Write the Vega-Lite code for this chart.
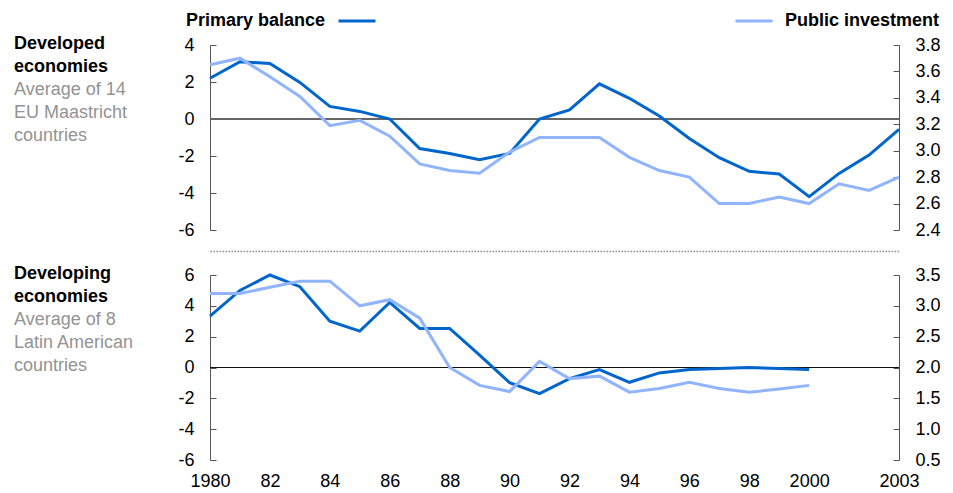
{
  "$schema": "https://vega.github.io/schema/vega-lite/v6.json",
  "padding": {"left": 14, "top": 1, "right": 5, "bottom": 4},
  "bounds": "flush",
  "spacing": 45,
  "config": {
    "font": "Liberation Sans",
    "view": {"stroke": null},
    "axis": {"labelFontSize": 18, "labelColor": "#000", "domainColor": "#555", "tickColor": "#555", "grid": false, "title": null, "labelFont": "Liberation Sans"},
    "axisY": {"tickSize": -6, "labelPadding": 22, "domainWidth": 1, "tickWidth": 1},
    "legend": {"labelFont": "Liberation Sans"}
  },
  "datasets": {
    "d": [
      {"panel": "Developed", "series": "Primary balance", "year": 1980, "value": 2.2},
      {"panel": "Developed", "series": "Primary balance", "year": 1981, "value": 3.1},
      {"panel": "Developed", "series": "Primary balance", "year": 1982, "value": 3.0},
      {"panel": "Developed", "series": "Primary balance", "year": 1983, "value": 1.98},
      {"panel": "Developed", "series": "Primary balance", "year": 1984, "value": 0.68},
      {"panel": "Developed", "series": "Primary balance", "year": 1985, "value": 0.41},
      {"panel": "Developed", "series": "Primary balance", "year": 1986, "value": 0.0},
      {"panel": "Developed", "series": "Primary balance", "year": 1987, "value": -1.6},
      {"panel": "Developed", "series": "Primary balance", "year": 1988, "value": -1.86},
      {"panel": "Developed", "series": "Primary balance", "year": 1989, "value": -2.2},
      {"panel": "Developed", "series": "Primary balance", "year": 1990, "value": -1.86},
      {"panel": "Developed", "series": "Primary balance", "year": 1991, "value": 0.0},
      {"panel": "Developed", "series": "Primary balance", "year": 1992, "value": 0.49},
      {"panel": "Developed", "series": "Primary balance", "year": 1993, "value": 1.9},
      {"panel": "Developed", "series": "Primary balance", "year": 1994, "value": 1.12},
      {"panel": "Developed", "series": "Primary balance", "year": 1995, "value": 0.16},
      {"panel": "Developed", "series": "Primary balance", "year": 1996, "value": -1.05},
      {"panel": "Developed", "series": "Primary balance", "year": 1997, "value": -2.09},
      {"panel": "Developed", "series": "Primary balance", "year": 1998, "value": -2.83},
      {"panel": "Developed", "series": "Primary balance", "year": 1999, "value": -2.97},
      {"panel": "Developed", "series": "Primary balance", "year": 2000, "value": -4.2},
      {"panel": "Developed", "series": "Primary balance", "year": 2001, "value": -2.94},
      {"panel": "Developed", "series": "Primary balance", "year": 2002, "value": -1.95},
      {"panel": "Developed", "series": "Primary balance", "year": 2003, "value": -0.56},
      {"panel": "Developed", "series": "Public investment", "year": 1980, "value": 3.65},
      {"panel": "Developed", "series": "Public investment", "year": 1981, "value": 3.70},
      {"panel": "Developed", "series": "Public investment", "year": 1982, "value": 3.56},
      {"panel": "Developed", "series": "Public investment", "year": 1983, "value": 3.41},
      {"panel": "Developed", "series": "Public investment", "year": 1984, "value": 3.19},
      {"panel": "Developed", "series": "Public investment", "year": 1985, "value": 3.23},
      {"panel": "Developed", "series": "Public investment", "year": 1986, "value": 3.11},
      {"panel": "Developed", "series": "Public investment", "year": 1987, "value": 2.90},
      {"panel": "Developed", "series": "Public investment", "year": 1988, "value": 2.85},
      {"panel": "Developed", "series": "Public investment", "year": 1989, "value": 2.83},
      {"panel": "Developed", "series": "Public investment", "year": 1990, "value": 2.99},
      {"panel": "Developed", "series": "Public investment", "year": 1991, "value": 3.10},
      {"panel": "Developed", "series": "Public investment", "year": 1992, "value": 3.10},
      {"panel": "Developed", "series": "Public investment", "year": 1993, "value": 3.10},
      {"panel": "Developed", "series": "Public investment", "year": 1994, "value": 2.95},
      {"panel": "Developed", "series": "Public investment", "year": 1995, "value": 2.85},
      {"panel": "Developed", "series": "Public investment", "year": 1996, "value": 2.80},
      {"panel": "Developed", "series": "Public investment", "year": 1997, "value": 2.60},
      {"panel": "Developed", "series": "Public investment", "year": 1998, "value": 2.60},
      {"panel": "Developed", "series": "Public investment", "year": 1999, "value": 2.65},
      {"panel": "Developed", "series": "Public investment", "year": 2000, "value": 2.60},
      {"panel": "Developed", "series": "Public investment", "year": 2001, "value": 2.75},
      {"panel": "Developed", "series": "Public investment", "year": 2002, "value": 2.70},
      {"panel": "Developed", "series": "Public investment", "year": 2003, "value": 2.80},
      {"panel": "Developing", "series": "Primary balance", "year": 1980, "value": 3.33},
      {"panel": "Developing", "series": "Primary balance", "year": 1981, "value": 5.0},
      {"panel": "Developing", "series": "Primary balance", "year": 1982, "value": 6.0},
      {"panel": "Developing", "series": "Primary balance", "year": 1983, "value": 5.24},
      {"panel": "Developing", "series": "Primary balance", "year": 1984, "value": 3.0},
      {"panel": "Developing", "series": "Primary balance", "year": 1985, "value": 2.36},
      {"panel": "Developing", "series": "Primary balance", "year": 1986, "value": 4.22},
      {"panel": "Developing", "series": "Primary balance", "year": 1987, "value": 2.53},
      {"panel": "Developing", "series": "Primary balance", "year": 1988, "value": 2.53},
      {"panel": "Developing", "series": "Primary balance", "year": 1989, "value": 0.8},
      {"panel": "Developing", "series": "Primary balance", "year": 1990, "value": -0.98},
      {"panel": "Developing", "series": "Primary balance", "year": 1991, "value": -1.69},
      {"panel": "Developing", "series": "Primary balance", "year": 1992, "value": -0.72},
      {"panel": "Developing", "series": "Primary balance", "year": 1993, "value": -0.13},
      {"panel": "Developing", "series": "Primary balance", "year": 1994, "value": -0.96},
      {"panel": "Developing", "series": "Primary balance", "year": 1995, "value": -0.35},
      {"panel": "Developing", "series": "Primary balance", "year": 1996, "value": -0.13},
      {"panel": "Developing", "series": "Primary balance", "year": 1997, "value": -0.07},
      {"panel": "Developing", "series": "Primary balance", "year": 1998, "value": 0.0},
      {"panel": "Developing", "series": "Primary balance", "year": 1999, "value": -0.07},
      {"panel": "Developing", "series": "Primary balance", "year": 2000, "value": -0.13},
      {"panel": "Developing", "series": "Public investment", "year": 1980, "value": 3.2},
      {"panel": "Developing", "series": "Public investment", "year": 1981, "value": 3.2},
      {"panel": "Developing", "series": "Public investment", "year": 1982, "value": 3.3},
      {"panel": "Developing", "series": "Public investment", "year": 1983, "value": 3.4},
      {"panel": "Developing", "series": "Public investment", "year": 1984, "value": 3.4},
      {"panel": "Developing", "series": "Public investment", "year": 1985, "value": 3.0},
      {"panel": "Developing", "series": "Public investment", "year": 1986, "value": 3.1},
      {"panel": "Developing", "series": "Public investment", "year": 1987, "value": 2.8},
      {"panel": "Developing", "series": "Public investment", "year": 1988, "value": 2.0},
      {"panel": "Developing", "series": "Public investment", "year": 1989, "value": 1.71},
      {"panel": "Developing", "series": "Public investment", "year": 1990, "value": 1.61},
      {"panel": "Developing", "series": "Public investment", "year": 1991, "value": 2.1},
      {"panel": "Developing", "series": "Public investment", "year": 1992, "value": 1.82},
      {"panel": "Developing", "series": "Public investment", "year": 1993, "value": 1.86},
      {"panel": "Developing", "series": "Public investment", "year": 1994, "value": 1.6},
      {"panel": "Developing", "series": "Public investment", "year": 1995, "value": 1.66},
      {"panel": "Developing", "series": "Public investment", "year": 1996, "value": 1.76},
      {"panel": "Developing", "series": "Public investment", "year": 1997, "value": 1.66},
      {"panel": "Developing", "series": "Public investment", "year": 1998, "value": 1.6},
      {"panel": "Developing", "series": "Public investment", "year": 1999, "value": 1.65},
      {"panel": "Developing", "series": "Public investment", "year": 2000, "value": 1.71}
    ]
  },
  "vconcat": [
    {
      "width": 689,
      "height": 185,
      "title": {
        "text": ["Developed", "economies"],
        "subtitle": ["Average of 14", "EU Maastricht", "countries"],
        "anchor": "start", "frame": "group", "orient": "top", "align": "left", "baseline": "top",
        "dx": -196, "offset": -109,
        "font": "Liberation Sans", "fontSize": 18, "fontWeight": "bold", "color": "#000", "lineHeight": 23,
        "subtitleFont": "Liberation Sans", "subtitleFontSize": 18, "subtitleColor": "#939393", "subtitleLineHeight": 23, "subtitlePadding": 5
      },
      "data": {"name": "d"},
      "transform": [{"filter": "datum.panel == 'Developed'"}],
      "layer": [
        {
          "layer": [
            {
              "mark": {"type": "rule", "color": "#666", "strokeWidth": 1.2},
              "encoding": {"y": {"datum": 0, "type": "quantitative", "scale": {"domain": [-6, 4], "nice": false, "zero": false},
                      "axis": {"values": [-6, -4, -2, 0, 2, 4], "labelExpr": "replace(datum.label, '\u2212', '-')"}}}
            },
            {
              "transform": [{"filter": "datum.series == 'Primary balance'"}],
              "mark": {"type": "line", "strokeWidth": 3},
              "encoding": {
                "x": {"field": "year", "type": "quantitative", "scale": {"domain": [1980, 2003], "nice": false, "zero": false},
                      "axis": {"orient": "bottom", "offset": 21, "labels": false, "ticks": false, "domainDash": [1.5, 1.5], "domainColor": "#888", "domainWidth": 1.5}},
                "y": {"field": "value", "type": "quantitative", "scale": {"domain": [-6, 4], "nice": false, "zero": false},
                      "axis": {"values": [-6, -4, -2, 0, 2, 4], "labelExpr": "replace(datum.label, '\u2212', '-')"}},
                "stroke": {"field": "series", "type": "nominal", "scale": {"domain": ["Primary balance"], "range": ["#0066cc"]},
                           "legend": {"orient": "none", "legendX": 127, "legendY": -44, "title": null, "symbolType": "stroke", "symbolSize": 1369, "symbolStrokeWidth": 3, "labelFontSize": 18, "labelFontWeight": "bold", "labelColor": "#000", "labelAlign": "right", "labelOffset": -52, "labelLimit": 300}}
              }
            }
          ]
        },
        {
          "transform": [{"filter": "datum.series == 'Public investment'"}],
          "mark": {"type": "line", "strokeWidth": 3},
          "encoding": {
            "x": {"field": "year", "type": "quantitative", "scale": {"domain": [1980, 2003], "nice": false, "zero": false}},
            "y": {"field": "value", "type": "quantitative", "scale": {"domain": [2.4, 3.8], "nice": false, "zero": false},
                  "axis": {"orient": "right", "values": [2.4, 2.6, 2.8, 3.0, 3.2, 3.4, 3.6, 3.8], "format": ".1f"}},
            "color": {"field": "series", "type": "nominal", "scale": {"domain": ["Public investment"], "range": ["#91b4ff"]},
                      "legend": {"orient": "none", "legendX": 524, "legendY": -44, "title": null, "symbolType": "stroke", "symbolSize": 1369, "symbolStrokeWidth": 3, "labelFontSize": 18, "labelFontWeight": "bold", "labelColor": "#000", "labelOffset": 11, "labelLimit": 300}}
          }
        }
      ],
      "resolve": {"scale": {"y": "independent"}}
    },
    {
      "width": 689,
      "height": 185,
      "title": {
        "text": ["Developing", "economies"],
        "subtitle": ["Average of 8", "Latin American", "countries"],
        "anchor": "start", "frame": "group", "orient": "top", "align": "left", "baseline": "top",
        "dx": -196, "offset": -109,
        "font": "Liberation Sans", "fontSize": 18, "fontWeight": "bold", "color": "#000", "lineHeight": 23,
        "subtitleFont": "Liberation Sans", "subtitleFontSize": 18, "subtitleColor": "#939393", "subtitleLineHeight": 23, "subtitlePadding": 5
      },
      "data": {"name": "d"},
      "transform": [{"filter": "datum.panel == 'Developing'"}],
      "layer": [
        {
          "layer": [
            {
              "mark": {"type": "rule", "color": "#111", "strokeWidth": 1.2},
              "encoding": {"y": {"datum": 0, "type": "quantitative", "scale": {"domain": [-6, 6], "nice": false, "zero": false},
                      "axis": {"values": [-6, -4, -2, 0, 2, 4, 6], "labelExpr": "replace(datum.label, '\u2212', '-')"}}}
            },
            {
              "transform": [{"filter": "datum.series == 'Primary balance'"}],
              "mark": {"type": "line", "strokeWidth": 3},
              "encoding": {
                "x": {"field": "year", "type": "quantitative", "scale": {"domain": [1980, 2003], "nice": false, "zero": false},
                      "axis": {"orient": "bottom", "values": [1980, 1982, 1984, 1986, 1988, 1990, 1992, 1994, 1996, 1998, 2000, 2003], "format": "d", "labelExpr": "datum.value == 1980 || datum.value >= 2000 ? format(datum.value, 'd') : slice(format(datum.value, 'd'), 2)", "ticks": false, "domain": false, "labelPadding": 12, "labelFlush": false}},
                "y": {"field": "value", "type": "quantitative", "scale": {"domain": [-6, 6], "nice": false, "zero": false},
                      "axis": {"values": [-6, -4, -2, 0, 2, 4, 6], "labelExpr": "replace(datum.label, '\u2212', '-')"}},
                "stroke": {"field": "series", "type": "nominal", "scale": {"domain": ["Primary balance"], "range": ["#0066cc"]},
                           "legend": {"orient": "none", "legendX": 127, "legendY": -44, "title": null, "symbolType": "stroke", "symbolSize": 1369, "symbolStrokeWidth": 3, "labelFontSize": 18, "labelFontWeight": "bold", "labelColor": "#000", "labelAlign": "right", "labelOffset": -52, "labelLimit": 300}}
              }
            }
          ]
        },
        {
          "transform": [{"filter": "datum.series == 'Public investment'"}],
          "mark": {"type": "line", "strokeWidth": 3},
          "encoding": {
            "x": {"field": "year", "type": "quantitative", "scale": {"domain": [1980, 2003], "nice": false, "zero": false}},
            "y": {"field": "value", "type": "quantitative", "scale": {"domain": [0.5, 3.5], "nice": false, "zero": false},
                  "axis": {"orient": "right", "values": [0.5, 1.0, 1.5, 2.0, 2.5, 3.0, 3.5], "format": ".1f"}},
            "color": {"field": "series", "type": "nominal", "scale": {"domain": ["Public investment"], "range": ["#91b4ff"]},
                      "legend": {"orient": "none", "legendX": 524, "legendY": -44, "title": null, "symbolType": "stroke", "symbolSize": 1369, "symbolStrokeWidth": 3, "labelFontSize": 18, "labelFontWeight": "bold", "labelColor": "#000", "labelOffset": 11, "labelLimit": 300}}
          }
        }
      ],
      "resolve": {"scale": {"y": "independent"}}
    }
  ]
}
